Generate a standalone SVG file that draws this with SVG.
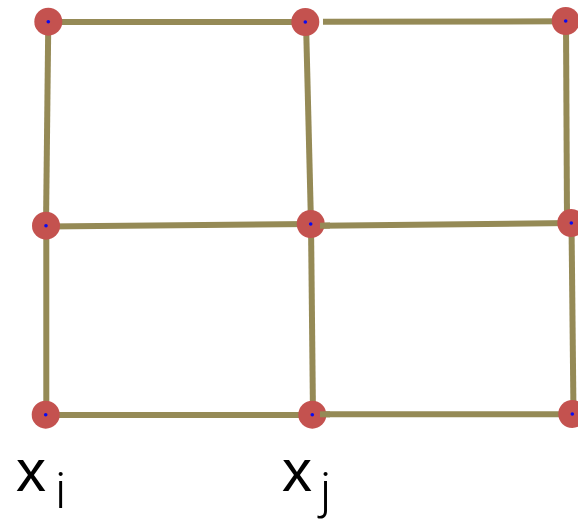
<svg xmlns="http://www.w3.org/2000/svg" width="578" height="519" viewBox="0 0 578 519">
<style>
.e{stroke:#958a56;stroke-width:6;fill:none}
.n{fill:#c4524f}
.d{fill:#0a0af0}
.lbl{font-family:"Liberation Sans",Arial,sans-serif;font-size:60px;fill:#000}
.sub{font-family:Roboto,"Liberation Sans",sans-serif;font-weight:300;font-size:50px;fill:#000}
</style>
<rect width="578" height="519" fill="#fff"/>
<g id="connectors">
<line class="e" x1="48" y1="22" x2="306" y2="22"/>
<line class="e" x1="323" y1="21.7" x2="566" y2="21.3"/>
<line class="e" x1="48.3" y1="21" x2="46" y2="226"/>
<line class="e" x1="306" y1="22" x2="311" y2="224"/>
<line class="e" x1="566" y1="21" x2="567" y2="222"/>
<line class="e" x1="46" y1="226.5" x2="311" y2="224"/>
<line class="e" x1="320" y1="225.7" x2="571" y2="223"/>
<line class="e" x1="46.3" y1="226" x2="46.3" y2="415"/>
<line class="e" x1="311" y1="224" x2="313" y2="415"/>
<line class="e" x1="571.5" y1="223" x2="573.5" y2="414"/>
<line class="e" x1="46" y1="415" x2="312" y2="415"/>
<line class="e" x1="320" y1="414.3" x2="572" y2="414.3"/>
</g>
<g id="n1"><circle class="n" cx="48.3" cy="21.7" r="14"/><circle class="d" cx="48.3" cy="21.7" r="1.8"/></g>
<g id="n2"><circle class="n" cx="305.3" cy="22" r="14"/><circle class="d" cx="305.3" cy="22" r="1.8"/></g>
<g id="n3"><circle class="n" cx="565.7" cy="21" r="14"/><circle class="d" cx="565.7" cy="21" r="1.8"/></g>
<g id="n4"><circle class="n" cx="46" cy="225.7" r="14"/><circle class="d" cx="46" cy="225.7" r="1.8"/></g>
<g id="n5"><circle class="n" cx="310.7" cy="224" r="14"/><circle class="d" cx="310.7" cy="224" r="1.8"/></g>
<g id="n6"><circle class="n" cx="571.3" cy="223" r="14"/><circle class="d" cx="571.3" cy="223" r="1.8"/></g>
<g id="n7"><circle class="n" cx="45.7" cy="414.7" r="14"/><circle class="d" cx="45.7" cy="414.7" r="1.8"/></g>
<g id="n8"><circle class="n" cx="312.3" cy="414.7" r="14"/><circle class="d" cx="312.3" cy="414.7" r="1.8"/></g>
<g id="n9"><circle class="n" cx="572.3" cy="414" r="14"/><circle class="d" cx="572.3" cy="414" r="1.8"/></g>
<g id="connectors-over">
<line class="e" x1="320" y1="225.7" x2="330" y2="225.6"/>
<line class="e" x1="320" y1="414.3" x2="330" y2="414.3"/>
</g>
<g id="label-xi"><text class="lbl" x="16" y="491">x</text><text class="sub" x="55" y="508">i</text></g>
<g id="label-xj"><text class="lbl" x="282" y="491">x</text><text class="sub" x="320" y="508">j</text></g>
</svg>
